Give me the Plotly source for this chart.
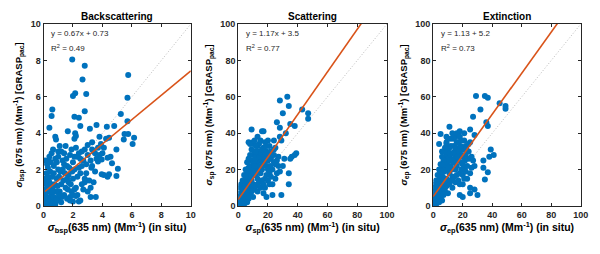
import numpy as np
import plotly.graph_objects as go

# ---------------- data ----------------
panel_titles = ["Backscattering", "Scattering", "Extinction"]
subs = ["bsp", "sp", "ep"]
slopes = [0.67, 1.17, 1.13]
intercepts = [0.73, 3.5, 5.2]
r2_values = [0.49, 0.77, 0.73]
axis_max = [10, 100, 100]
tick_steps = [2, 20, 20]

bsp_points = [
    (1.95, 8.05), (2.8, 7.7), (2.65, 6.95), (5.75, 7.2), (2.15, 6.2), (2.0, 6.05), (2.9, 6.15),
    (5.7, 5.95), (0.6, 5.3), (0.55, 4.95), (2.1, 4.9), (2.4, 4.85), (2.8, 5.2), (5.25, 5.05),
    (0.4, 4.3), (5.7, 4.65), (2.5, 4.4), (3.6, 4.45), (3.15, 4.25), (4.3, 4.35), (4.8, 4.4),
    (1.65, 4.1), (2.15, 4.0), (0.8, 3.8), (0.85, 3.65), (2.2, 3.85), (2.1, 3.7), (5.5, 3.95),
    (5.75, 3.95), (6.15, 3.75), (5.45, 3.65), (6.05, 3.4), (4.25, 3.7), (4.45, 3.75), (3.8, 3.8),
    (3.3, 3.5), (3.0, 3.35), (4.95, 3.1), (4.55, 2.7), (4.35, 2.65), (3.95, 2.55), (4.65, 2.35),
    (3.2, 2.5), (3.7, 2.45), (3.25, 2.1), (5.05, 2.05), (4.45, 1.75), (4.1, 1.7), (3.95, 1.75),
    (4.95, 1.65), (4.35, 1.6), (3.4, 1.3), (2.8, 1.3), (3.2, 0.5), (3.55, 0.5), (2.0, 0.25),
    (2.4, 0.25), (1.8, 0.5), (2.2, 0.55),
    (0.05, 0.1), (0.1, 0.3), (0.15, 0.05), (0.2, 0.5), (0.25, 0.2), (0.3, 0.8), (0.1, 0.9),
    (0.05, 1.4), (0.2, 1.2), (0.35, 1.5), (0.4, 0.4), (0.5, 0.1), (0.55, 0.6), (0.6, 1.0),
    (0.45, 1.9), (0.5, 2.4), (0.3, 2.1), (0.35, 2.5), (0.7, 2.2), (0.8, 2.6), (0.9, 1.5),
    (1.0, 0.3), (1.1, 0.8), (1.2, 1.2), (1.0, 2.0), (1.3, 2.5), (1.4, 2.9), (1.5, 3.3),
    (1.6, 2.2), (1.7, 1.7), (1.8, 2.8), (1.9, 3.1), (2.0, 2.4), (2.1, 2.0), (2.2, 3.2),
    (2.3, 2.7), (2.4, 2.1), (2.5, 1.8), (2.6, 3.0), (2.7, 2.5), (2.8, 3.1), (2.9, 2.3),
    (3.0, 2.8), (1.2, 0.2), (1.4, 0.6), (1.5, 1.0), (1.6, 0.4), (1.7, 1.3), (1.9, 0.8),
    (2.0, 1.5), (2.1, 0.9), (2.3, 0.6), (2.5, 0.3), (2.6, 1.2), (2.7, 0.9), (2.9, 1.8),
    (3.1, 1.4), (3.3, 2.2), (3.5, 1.9), (3.6, 2.6), (3.4, 3.0), (3.7, 3.2), (3.9, 3.4),
    (4.0, 2.9), (0.15, 0.6), (0.25, 1.0), (0.35, 0.15), (0.45, 0.35), (0.65, 0.25), (0.7, 0.5),
    (0.75, 1.2), (0.85, 0.8), (0.95, 1.1), (0.9, 0.4), (1.05, 1.6), (1.15, 1.9), (1.25, 0.5),
    (1.35, 1.4), (1.45, 1.8), (1.55, 2.6), (1.65, 0.9), (1.75, 2.1), (1.85, 1.2), (1.95, 1.9),
    (0.1, 2.5), (0.2, 1.8), (0.05, 0.7), (0.12, 0.15), (0.3, 0.35), (0.4, 1.3), (0.6, 1.6),
    (0.8, 0.1), (1.0, 2.7), (1.1, 3.3), (1.3, 2.0), (2.2, 1.0), (2.4, 2.9), (2.6, 2.2),
    (2.8, 1.5), (3.0, 0.8), (3.2, 1.0), (1.2, 3.0), (1.4, 2.3), (1.6, 1.5), (1.8, 0.3),
    (2.0, 0.6), (0.55, 2.9), (0.65, 3.1), (0.4, 2.7), (0.25, 2.3), (0.15, 1.5), (0.3, 1.6),
    (0.5, 1.2), (0.7, 1.8), (0.9, 2.4), (1.0, 3.0), (2.3, 1.6), (3.3, 3.1), (3.8, 2.8),
    (2.1, 2.7), (2.5, 2.6), (0.1, 0.05), (0.2, 0.1), (0.08, 0.45), (0.6, 0.8), (0.85, 0.3),
    (1.05, 0.6), (4.1, 3.2), (3.5, 2.9),
]

sp_points = [
    (33, 60), (28, 58), (30, 51), (34, 55), (43, 53), (47, 51), (47, 48), (26, 46), (28, 43),
    (35, 45), (32, 40), (38, 44), (9, 42), (16, 41), (17, 41), (28, 38), (29, 36), (20, 36),
    (24, 36), (10, 35), (7, 35), (13, 33), (39, 29), (38, 28), (36, 27), (35, 26), (31, 26),
    (27, 27), (25, 23), (30, 22), (34, 18), (34, 12), (23, 6), (29, 6), (17, 7), (19, 5),
    (0.5, 1), (1, 2), (1.5, 3), (2, 1), (2, 5), (3, 4), (3, 8), (4, 3), (4, 10), (5, 6),
    (5, 12), (6, 5), (6, 15), (7, 8), (7, 18), (8, 10), (8, 22), (9, 14), (9, 25), (10, 12),
    (10, 28), (11, 17), (11, 30), (12, 20), (12, 24), (13, 15), (13, 27), (14, 22), (14, 30),
    (15, 18), (15, 25), (16, 28), (16, 20), (17, 32), (17, 23), (18, 26), (18, 15), (19, 30),
    (19, 22), (20, 25), (20, 28), (21, 18), (21, 33), (22, 26), (22, 30), (23, 20), (24, 28),
    (25, 32), (26, 25), (0.5, 5), (1, 7), (1.5, 10), (2, 12), (3, 14), (4, 17), (5, 20),
    (6, 24), (7, 26), (8, 28), (9, 31), (10, 34), (12, 30), (14, 34), (15, 36), (18, 35),
    (13, 38), (11, 36), (3, 2), (4, 6), (5, 3), (6, 9), (7, 4), (8, 6), (9, 8), (10, 5),
    (11, 9), (12, 11), (13, 8), (14, 13), (15, 10), (16, 14), (17, 12), (18, 10), (19, 17),
    (20, 14), (21, 12), (22, 16), (20, 20), (24, 24), (26, 18), (27, 22), (28, 19), (25, 15),
    (23, 12), (0.3, 0.3), (1, 0.5), (2, 2.5), (2.5, 6), (3.5, 9), (4.5, 11), (5.5, 8),
    (6.5, 13), (7.5, 16), (8.5, 19), (9.5, 21), (10.5, 23), (11.5, 26), (12.5, 18),
    (13.5, 22), (14.5, 27), (15.5, 29), (16.5, 24), (17.5, 27), (18.5, 29), (19.5, 25),
    (21.5, 22), (22.5, 28), (7, 21), (6, 19), (5, 16), (9, 17), (11, 22), (13, 12), (16, 31),
    (19, 33), (24, 31), (8, 34), (12, 33), (10, 18), (6, 2), (4, 1), (7, 11),
]

ep_points = [
    (29, 60.5), (35, 60.5), (37, 59.5), (45, 56.5), (49, 55), (49, 53.5), (32, 53), (27, 49),
    (36, 46), (37, 44), (11, 43.5), (18, 41), (25, 42), (21, 40), (15, 38), (5, 39.5), (9, 35),
    (4, 34), (6, 30), (28, 39), (39, 31), (41, 28), (38, 27), (34, 25), (34, 21), (37, 18.5),
    (35, 14.5), (28, 9), (30, 6), (25, 7), (20, 5), (18, 6), (25, 10), (20, 12),
    (0.5, 2), (1, 5), (1.5, 3), (2, 8), (2, 1), (3, 6), (3, 11), (4, 4), (4, 14), (5, 9),
    (5, 17), (6, 7), (6, 20), (7, 12), (7, 23), (8, 10), (8, 26), (9, 15), (9, 28), (10, 13),
    (10, 30), (11, 18), (11, 32), (12, 22), (12, 26), (13, 16), (13, 29), (14, 24), (14, 33),
    (15, 20), (15, 27), (16, 30), (16, 22), (17, 35), (17, 25), (18, 28), (18, 18), (19, 32),
    (19, 24), (20, 27), (20, 31), (21, 21), (21, 36), (22, 28), (22, 33), (23, 22), (24, 30),
    (25, 35), (26, 27), (0.5, 8), (1, 10), (1.5, 12), (2, 14), (3, 17), (4, 20), (5, 23),
    (6, 27), (7, 30), (8, 32), (9, 34), (10, 37), (12, 33), (14, 37), (16, 40), (18, 38),
    (13, 40), (3, 3), (4, 8), (5, 5), (6, 12), (7, 6), (8, 8), (9, 11), (10, 7), (11, 12),
    (12, 14), (13, 10), (14, 16), (15, 13), (16, 17), (17, 14), (18, 12), (19, 20), (20, 17),
    (21, 15), (22, 19), (20, 23), (24, 26), (26, 21), (27, 25), (28, 22), (25, 18), (23, 15),
    (0.3, 0.5), (1, 1.5), (2, 4), (2.5, 9), (3.5, 12), (4.5, 15), (5.5, 11), (6.5, 16),
    (7.5, 19), (8.5, 22), (9.5, 24), (10.5, 26), (11.5, 29), (12.5, 20), (13.5, 25),
    (14.5, 30), (15.5, 32), (16.5, 27), (17.5, 30), (18.5, 33), (19.5, 28), (21.5, 25),
    (22.5, 31), (7, 25), (6, 23), (5, 19), (9, 20), (11, 25), (13, 14), (16, 35), (19, 36),
    (24, 34), (9, 38), (12, 37), (10, 21), (6, 3), (4, 2), (7, 14), (1, 6), (0.5, 4), (2, 10),
]

all_points = [bsp_points, sp_points, ep_points]

# ---------------- style ----------------
FONT = "Arial, Liberation Sans, Helvetica, sans-serif"
BLUE = "#0072BD"
ORANGE = "#D95319"
AXC = "#262626"

x_domains = [(0.0725, 0.318), (0.397, 0.645), (0.722, 0.968)]
y_domain = (0.189, 0.9055)

fig = go.Figure()
annotations = []

for i in range(3):
    ax = "" if i == 0 else str(i + 1)
    xref, yref = "x" + ax, "y" + ax
    pts = np.array(all_points[i], dtype=float)
    m = axis_max[i]

    # 1:1 dotted line
    fig.add_trace(go.Scatter(x=[0, m], y=[0, m], mode="lines", xaxis=xref, yaxis=yref,
                             line=dict(color="#a8a8a8", width=0.8, dash="1px,2px"),
                             showlegend=False, hoverinfo="skip"))
    # scatter
    fig.add_trace(go.Scatter(x=pts[:, 0], y=pts[:, 1], mode="markers", xaxis=xref, yaxis=yref,
                             marker=dict(color=BLUE, size=6, line=dict(width=0)),
                             showlegend=False))
    # fit line
    fx = np.array([0.1 * m / 10 if i == 0 else 0.0, m])
    fy = slopes[i] * fx + intercepts[i]
    fig.add_trace(go.Scatter(x=fx, y=fy, mode="lines", xaxis=xref, yaxis=yref,
                             line=dict(color=ORANGE, width=1.6),
                             showlegend=False, hoverinfo="skip"))

    axis_common = dict(range=[0, m], tickmode="linear", tick0=0, dtick=tick_steps[i],
                       ticks="inside", ticklen=3, tickcolor=AXC, showline=True,
                       linecolor=AXC, linewidth=1, mirror="ticks", showgrid=False,
                       zeroline=False, automargin=False,
                       tickfont=dict(family=FONT, size=9, color=AXC, weight="bold"))
    s = subs[i]
    xtitle = f"<i>σ</i><sub>{s}</sub>(635 nm) (Mm<sup>-1</sup>) (in situ)"
    ytitle = f"<i>σ</i><sub>{s}</sub> (675 nm) (Mm<sup>-1</sup>) [GRASP<sub>pac</sub>]"
    fig.update_layout(**{
        "xaxis" + ax: dict(axis_common, domain=list(x_domains[i]), anchor=yref,
                           title=dict(text=xtitle, standoff=4,
                                      font=dict(family=FONT, size=10.5, color="black",
                                                weight="bold"))),
        "yaxis" + ax: dict(axis_common, domain=list(y_domain), anchor=xref,
                           title=dict(text=ytitle, standoff=6,
                                      font=dict(family=FONT, size=9.5, color="black",
                                                weight="bold"))),
    })

    # panel title
    annotations.append(dict(text=f"<b>{panel_titles[i]}</b>", xref="paper", yref="paper",
                            x=sum(x_domains[i]) / 2, y=y_domain[1], yanchor="bottom",
                            xanchor="center", showarrow=False, yshift=0,
                            font=dict(family=FONT, size=10, color="black")))
    # equation text
    annotations.append(dict(text=f"y = {slopes[i]:g}x + {intercepts[i]:g}" if i < 2 else
                            f"y = {slopes[i]:g} + {intercepts[i]:g}",
                            xref=xref + " domain", yref=yref + " domain", x=0.04, y=0.985,
                            xanchor="left", yanchor="top", showarrow=False,
                            font=dict(family=FONT, size=8, color=AXC)))
    annotations.append(dict(text=f"R<sup>2</sup> = {r2_values[i]:g}",
                            xref=xref + " domain", yref=yref + " domain", x=0.04, y=0.905,
                            xanchor="left", yanchor="top", showarrow=False,
                            font=dict(family=FONT, size=8, color=AXC)))

fig.update_layout(width=600, height=254, margin=dict(l=0, r=0, t=0, b=0),
                  paper_bgcolor="white", plot_bgcolor="white",
                  annotations=annotations, font=dict(family=FONT))

fig.write_html("out.html", config={"displayModeBar": False},
               post_script="document.body.style.margin='0px';"
                           "document.body.style.overflow='hidden';")
